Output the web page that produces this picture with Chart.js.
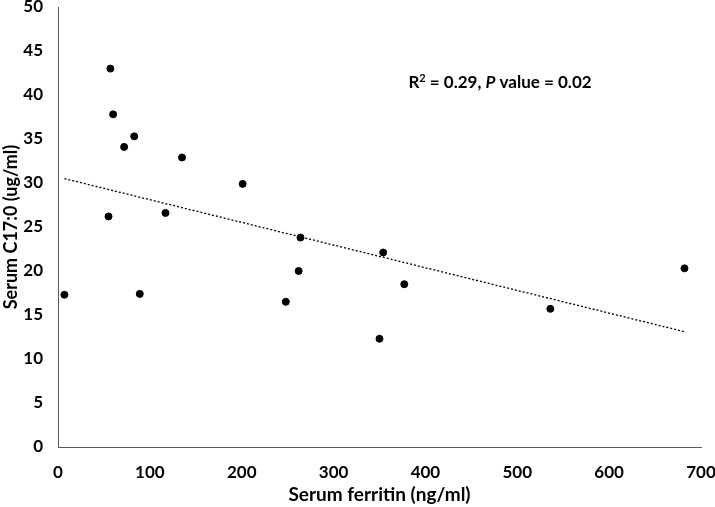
<!DOCTYPE html>
<html>
<head>
<meta charset="utf-8">
<script src="https://cdn.jsdelivr.net/npm/chart.js@4.4.1/dist/chart.umd.min.js"></script>
<style>
  html, body { margin: 0; padding: 0; background: #fff; }
  canvas { display: block; }
</style>
</head>
<body>
<canvas id="chart" width="715" height="507"></canvas>
<script>
// serum ferritin (ng/ml) vs serum C17:0 (ug/ml)
const ferritin = [57, 60, 83, 72, 135, 55, 117, 7, 89, 201, 264, 262, 248, 354, 377, 350, 536, 682];
const c17 = [43.0, 37.8, 35.3, 34.1, 32.9, 26.2, 26.6, 17.3, 17.4, 29.9, 23.8, 20.0, 16.5, 22.1, 18.5, 12.3, 15.7, 20.3];

// trend line ends
const trendX = [7, 682];
const trendY = [30.5, 13.1];

const xTicks = [0, 100, 200, 300, 400, 500, 600, 700];
const yTicks = [0, 5, 10, 15, 20, 25, 30, 35, 40, 45, 50];

const FONT = 'Lato, "Open Sans", sans-serif';

const statsLabel = {
  id: 'statsLabel',
  afterDraw(chart) {
    const ctx = chart.ctx;
    const parts = [
      { t: 'R', f: 'bold 17px ' + FONT, dy: 0 },
      { t: '2', f: 'bold 11px ' + FONT, dy: -6 },
      { t: ' = 0.29, ', f: 'bold 17px ' + FONT, dy: 0 },
      { t: 'P', f: 'italic bold 17px ' + FONT, dy: 0 },
      { t: ' value = 0.02', f: 'bold 17px ' + FONT, dy: 0 }
    ];
    ctx.save();
    let total = 0;
    parts.forEach(p => { ctx.font = p.f; p.w = ctx.measureText(p.t).width; total += p.w; });
    let x = 500 - total / 2;
    const y = 88;
    ctx.fillStyle = '#000';
    ctx.textBaseline = 'alphabetic';
    parts.forEach(p => {
      ctx.font = p.f;
      ctx.fillText(p.t, x, y + p.dy);
      x += p.w;
    });
    ctx.restore();
  }
};

new Chart(document.getElementById('chart'), {
  type: 'scatter',
  data: {
    datasets: [
      {
        label: 'C17:0',
        data: ferritin.map((v, i) => ({ x: v, y: c17[i] })),
        backgroundColor: '#000',
        borderColor: '#000',
        pointRadius: 3.5,
        pointHoverRadius: 3.5
      },
      {
        label: 'Linear',
        type: 'line',
        data: trendX.map((v, i) => ({ x: v, y: trendY[i] })),
        borderColor: '#000',
        borderWidth: 1.3,
        borderDash: [2, 2],
        pointRadius: 0,
        fill: false
      }
    ]
  },
  options: {
    responsive: false,
    animation: false,
    devicePixelRatio: 1,
    layout: { padding: { top: 7, right: 14, left: 0, bottom: 0 } },
    plugins: {
      legend: { display: false },
      tooltip: { enabled: false }
    },
    scales: {
      x: {
        type: 'linear',
        min: 0,
        max: 700,
        afterBuildTicks: axis => { axis.ticks = xTicks.map(v => ({ value: v })); },
        afterFit: axis => {
          axis.height = 60;
          axis.paddingLeft = 0;
          axis.paddingRight = 0;
        },
        grid: { display: false, drawTicks: false },
        border: { display: true, color: '#595959', width: 1 },
        ticks: { color: '#000', font: { family: FONT, size: 17, weight: 'bold' }, padding: 15, maxRotation: 0 },
        title: {
          display: true,
          text: 'Serum ferritin (ng/ml)',
          color: '#000',
          font: { family: FONT, size: 19, weight: 'bold' },
          padding: { top: 0, bottom: 1 }
        }
      },
      y: {
        type: 'linear',
        min: 0,
        max: 50,
        afterBuildTicks: axis => { axis.ticks = yTicks.map(v => ({ value: v })); },
        afterFit: axis => {
          axis.width = 58;
          axis.paddingTop = 0;
          axis.paddingBottom = 0;
        },
        grid: { display: false, drawTicks: false },
        border: { display: true, color: '#595959', width: 1 },
        ticks: { color: '#000', font: { family: FONT, size: 17, weight: 'bold' }, padding: 15 },
        title: {
          display: true,
          text: 'Serum C17:0 (ug/ml)',
          color: '#000',
          font: { family: FONT, size: 18, weight: 'bold' },
          padding: { top: 0, bottom: 0 }
        }
      }
    }
  },
  plugins: [statsLabel]
});
</script>
</body>
</html>
